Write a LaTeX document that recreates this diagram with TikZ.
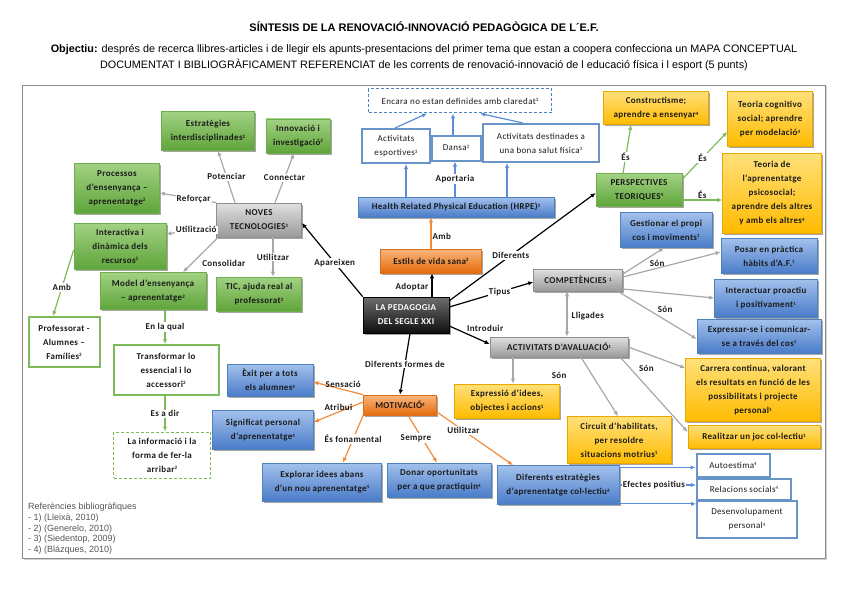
\documentclass[tikz,border=0pt]{standalone}
\usepackage{fontspec}
\setmainfont{Carlito}[LetterSpace=4]
\newfontfamily\arialf{Liberation Sans}
\usetikzlibrary{shadows,arrows.meta,calc}

\definecolor{gtop}{HTML}{A2D183}
\definecolor{gbot}{HTML}{5FA53A}
\definecolor{gdraw}{HTML}{6FAE4C}
\definecolor{btop}{HTML}{A3C1EC}
\definecolor{bbot}{HTML}{4A7CC9}
\definecolor{bdraw}{HTML}{4F81BD}
\definecolor{ytop}{HTML}{FFE07A}
\definecolor{ybot}{HTML}{FFBB00}
\definecolor{ydraw}{HTML}{E8A800}
\definecolor{otop}{HTML}{FBB57E}
\definecolor{obot}{HTML}{E46C0A}
\definecolor{odraw}{HTML}{D8701E}
\definecolor{grtop}{HTML}{E0E0E0}
\definecolor{grbot}{HTML}{9A9A9A}
\definecolor{grdraw}{HTML}{8F8F8F}
\definecolor{ktop}{HTML}{6E6E6E}
\definecolor{kbot}{HTML}{0E0E0E}
\definecolor{lgray}{HTML}{A8A8A8}
\definecolor{lgreen}{HTML}{7DBB5A}
\definecolor{lblue}{HTML}{5B8ED6}
\definecolor{lorange}{HTML}{F28C3C}
\definecolor{txt}{HTML}{1A1A1A}
\definecolor{framec}{HTML}{8A8A8A}
\definecolor{refc}{HTML}{555555}

\newcommand\mfs{\fontsize{9}{14}\selectfont}
\newcommand\sps[1]{\raisebox{0.55ex}{\fontsize{5}{5}\selectfont #1}}

\tikzset{
 wh/.style 2 args={minimum width=#1pt, minimum height=#2pt},
 box/.style={rectangle, align=center, inner sep=1pt, font=\mfs\bfseries, text=txt},
 shad/.style={drop shadow={shadow xshift=1.5pt, shadow yshift=-1.5pt, opacity=0.35, fill=black}},
 gbox/.style={box, shad, draw=gdraw, line width=0.7pt, top color=gtop, bottom color=gbot},
 bbox/.style={box, shad, draw=bdraw, line width=0.7pt, top color=btop, bottom color=bbot},
 ybox/.style={box, shad, draw=ydraw, line width=0.7pt, top color=ytop, bottom color=ybot},
 obox/.style={box, shad, draw=odraw, line width=0.7pt, top color=otop, bottom color=obot},
 grbox/.style={box, shad, draw=grdraw, line width=0.7pt, top color=grtop, bottom color=grbot},
 kbox/.style={box, shad, draw=black, line width=0.7pt, top color=ktop, bottom color=kbot, text=white},
 gwbox/.style={box, draw=lgreen, line width=2pt, fill=white},
 gdbox/.style={box, draw=lgreen, line width=1pt, dash pattern=on 3pt off 2pt, fill=white},
 bwbox/.style={box, draw=bdraw!85, line width=2pt, fill=white, font=\mfs},
 bdbox/.style={box, draw=bdraw, line width=1pt, dash pattern=on 3pt off 2pt, fill=white, font=\mfs},
 lab/.style={font=\mfs\bfseries, fill=white, inner sep=1pt, text=txt},
 labnf/.style={font=\mfs\bfseries, inner sep=1pt, text=txt},
 con/.style={line width=1.2pt, -{Latex[length=5pt,width=4.5pt]}},
 cgr/.style={con, draw=lgray},
 cgn/.style={con, draw=lgreen},
 cbl/.style={con, draw=lblue},
 cor/.style={con, draw=lorange},
 cbk/.style={con, draw=black},
}

\begin{document}
\begin{tikzpicture}[x=1pt,y=-1pt]
\useasboundingbox (0,0) rectangle (848,599);
\fill[white] (0,0) rectangle (848,599);

% header
\node[font=\arialf\bfseries\fontsize{11}{13}\selectfont] (title) at (424,27) {SÍNTESIS DE LA RENOVACIÓ-INNOVACIÓ PEDAGÒGICA DE L´E.F.};
\node[font=\arialf\fontsize{10.8}{16}\selectfont, align=center] (obj) at (424,58) {\textbf{Objectiu:} després de recerca llibres-articles i de llegir els apunts-presentacions del primer tema que estan a coopera confecciona un MAPA CONCEPTUAL\\DOCUMENTAT I BIBLIOGRÀFICAMENT REFERENCIAT de les corrents de renovació-innovació de l educació física i l esport (5 punts)};
\fill[black!18] (23.5,86.5) rectangle (826.5,559.5);
\draw[framec, line width=0.8pt, fill=white] (22,85) rectangle (825,558);

% green nodes
\node[gbox, wh={93}{39}] (estr) at (208,131) {Estratègies\\interdisciplinades\sps{2}};
\node[gbox, wh={64}{34}] (innov) at (298,136) {Innovació i\\investigació\sps{2}};
\node[gbox, wh={85}{50}] (proc) at (117,188) {Processos\\d'ensenyança –\\aprenentatge\sps{2}};
\node[gbox, wh={92}{46}] (inter) at (120,246) {Interactiva i\\dinàmica dels\\recursos\sps{2}};
\node[gbox, wh={106}{37}] (model) at (153,291) {Model d'ensenyança\\– aprenentatge\sps{2}};
\node[gbox, wh={85}{34}] (tic) at (259,294) {TIC, ajuda real al\\professorat\sps{2}};
\node[gbox, wh={86}{33}] (persp) at (639,190) {PERSPECTIVES\\TEORIQUES\sps{4}};
\node[gwbox, wh={71}{50}] (prof) at (64,342) {Professorat -\\Alumnes –\\Famílies\sps{2}};
\node[gwbox, wh={105}{50}] (transf) at (166,370) {Transformar lo\\essencial i lo\\accessori\sps{2}};
\node[gdbox, wh={97}{46}] (info) at (162,455) {La informació i la\\forma de fer-la\\arribar\sps{2}};

% gray / black / orange
\node[grbox, wh={85}{34}] (noves) at (259,220) {NOVES\\TECNOLOGIES\sps{3}};
\node[grbox, wh={89}{22}] (comp) at (578,280) {COMPETÈNCIES \sps{1}};
\node[grbox, wh={138}{20}] (aval) at (559,347) {ACTIVITATS D'AVALUACIÓ\sps{1}};
\node[kbox, wh={86}{36}] (ped) at (406,315) {LA PEDAGOGIA\\DEL SEGLE XXI};
\node[obox, wh={101}{24}] (estils) at (431,261) {Estils de vida sana\sps{3}};
\node[obox, wh={73}{20}] (motiv) at (400,405) {MOTIVACIÓ\sps{4}};

% blue filled
\node[bbox, wh={196}{20}] (hrpe) at (456,207) {Health Related Physical Education (HRPE)\sps{3}};
\node[bbox, wh={92}{35}] (gest) at (666,230) {Gestionar el propi\\cos i moviments\sps{1}};
\node[bbox, wh={96}{35}] (posar) at (769,256) {Posar en pràctica\\hàbits d'A.F.\sps{1}};
\node[bbox, wh={103}{38}] (interac) at (766,298) {Interactuar proactiu\\i positivament\sps{1}};
\node[bbox, wh={124}{34}] (expr) at (759,336) {Expressar-se i comunicar-\\se a través del cos\sps{1}};
\node[bbox, wh={86}{32}] (exit) at (270,380) {Èxit per a tots\\els alumnes\sps{4}};
\node[bbox, wh={101}{39}] (signif) at (263,430) {Significat personal\\d'aprenentatge\sps{4}};
\node[bbox, wh={119}{38}] (explor) at (322,482) {Explorar idees abans\\d'un nou aprenentatge\sps{4}};
\node[bbox, wh={104}{34}] (donar) at (439,480) {Donar oportunitats\\per a que practiquin\sps{4}};
\node[bbox, wh={122}{39}] (difest) at (558,485) {Diferents estratègies\\d'aprenentatge col·lectiu\sps{4}};

% blue outlined
\node[bdbox, wh={183}{24}] (encara) at (460,101) {Encara no estan definides amb claredat\sps{3}};
\node[bwbox, wh={68}{34}] (actesp) at (396,146) {Activitats\\esportives\sps{3}};
\node[bwbox, wh={49}{25}] (dansa) at (456,148) {Dansa\sps{3}};
\node[bwbox, wh={116}{38}] (actdest) at (541,143) {Activitats destinades a\\una bona salut física\sps{3}};
\node[bwbox, wh={73}{23}] (auto) at (733,465) {Autoestima\sps{4}};
\node[bwbox, wh={94}{21}] (relac) at (744,489) {Relacions socials\sps{4}};
\node[bwbox, wh={100}{37}] (desenv) at (747,519) {Desenvolupament\\personal\sps{4}};

% yellow
\node[ybox, wh={105}{33}] (constr) at (656,108) {Constructisme;\\aprendre a ensenyar\sps{4}};
\node[ybox, wh={85}{55}] (cogn) at (770,119) {Teoria cognitivo\\social; aprendre\\per modelació\sps{4}};
\node[ybox, wh={99}{80}] (psico) at (772,193) {Teoria de\\l'aprenentatge\\psicosocial;\\aprendre dels altres\\y amb els altres\sps{4}};
\node[ybox, wh={105}{34}] (exprid) at (507,401) {Expressió d'idees,\\objectes i accions\sps{1}};
\node[ybox, wh={104}{47}] (circ) at (619,440) {Circuit d'habilitats,\\per resoldre\\situacions motrius\sps{1}};
\node[ybox, wh={135}{63}] (carr) at (753,390) {Carrera continua, valorant\\els resultats en funció de les\\possibilitats i projecte\\personal\sps{1}};
\node[ybox, wh={132}{23}] (realiz) at (754,437) {Realitzar un joc col·lectiu\sps{1}};

% references
\node[font=\arialf\fontsize{9}{10.7}\selectfont, text=refc, align=left, anchor=north west, inner sep=0pt] (refs) at (28,503) {Referències bibliogràfiques\\- 1) (Lleixà, 2010)\\- 2) (Generelo, 2010)\\- 3) (Siedentop, 2009)\\- 4) (Blázques, 2010)};

% connectors: noves tecnologies
\draw[cgr] ([xshift=-24]noves.north) -- node[lab,pos=0.5] {Potenciar} ([xshift=10]estr.south);
\draw[cgr] ([xshift=16]noves.north) -- node[lab,pos=0.5] {Connectar} ([xshift=-4]innov.south);
\draw[cgr] (noves.north west) -- node[lab,pos=0.4] {Reforçar} ([yshift=-5]proc.east);
\draw[cgr] ([yshift=-7]noves.west) -- node[lab,pos=0.4] {Utilització} ([yshift=12]inter.east);
\draw[cgr] ([xshift=2]noves.south west) -- node[labnf,pos=0.75,xshift=32] {Consolidar} ([xshift=30]model.north);
\draw[cgr] ([xshift=14]noves.south) -- node[lab,pos=0.5] {Utilitzar} ([xshift=14]tic.north);

% green connectors
\draw[cgn] ([yshift=-4]inter.west) -- node[lab,pos=0.57] {Amb} ([xshift=-11]prof.north);
\draw[cgn] ([xshift=12]model.south) -- node[lab,pos=0.5] {En la qual} ([xshift=-1]transf.north);
\draw[cgn] ([xshift=-1]transf.south) -- node[lab,pos=0.5] {Es a dir} ([xshift=3]info.north);
\draw[cgn] ([xshift=-16]persp.north) -- node[lab,pos=0.33] {És} ([xshift=-25]constr.south);
\draw[cgn] ([yshift=-6]persp.north east) -- node[lab,pos=0.45] {És} ([yshift=-13]cogn.west);
\draw[cgn] ([yshift=-10]persp.east) -- node[labnf,pos=0.5,above] {És} ([yshift=-7]psico.west);

% pedagogia (black)
\draw[cbk] (ped.north west) -- node[lab,pos=0.46] {Apareixen} ([yshift=-3]noves.east);
\draw[cbk] ([xshift=26]ped.north) -- node[labnf,pos=0.4,anchor=east,xshift=-2] {Adoptar} ([xshift=1]estils.south);
\draw[cbk] ([yshift=-4]ped.north east) -- node[lab,pos=0.42] {Diferents} ([yshift=-3]persp.west);
\draw[cbk] ([yshift=8]ped.east) -- node[lab,pos=0.6] {Tipus} ([yshift=-2]comp.west);
\draw[cbk] ([yshift=-11]ped.east) -- node[labnf,pos=0.4,anchor=south west] {Introduir} ([yshift=3]aval.west);
\draw[cbk] ([xshift=4]ped.south) -- node[lab,pos=0.5] {Diferents formes de} (motiv.north);

% HRPE (blue) and orange
\draw[cor] (estils.north) -- node[labnf,pos=0.4,anchor=west] {Amb} ([xshift=-25]hrpe.south);
\draw[cbl] ([xshift=-50]hrpe.north) -- ([xshift=10]actesp.south);
\draw[cbl] ([xshift=-1]hrpe.north) -- node[lab,pos=0.5] {Aportaria} ([xshift=-1]dansa.south);
\draw[cbl] ([xshift=51]hrpe.north) -- ([xshift=-34]actdest.south);
\draw[cbl] ([xshift=-1]actesp.north) -- ([xshift=-33]encara.south);
\draw[cbl] ([xshift=-3]dansa.north) -- ([xshift=-7]encara.south);
\draw[cbl] ([xshift=-18]actdest.north) -- ([xshift=20]encara.south);

% competencies
\draw[cgr, {Latex[length=5pt,width=4.5pt]}-{Latex[length=5pt,width=4.5pt]}] ([xshift=-11]comp.south) -- node[labnf,pos=0.55,anchor=west,xshift=3] {Lligades} ([xshift=8]aval.north);
\draw[cgr] ([yshift=6]comp.east) -- ([xshift=-2]gest.south);
\draw[cgr] ([yshift=3]comp.east) -- node[labnf,pos=0.35,above] {Són} ([yshift=4]posar.west);
\draw[cgr] ([yshift=-9]comp.east) -- (interac.west);
\draw[cgr] ([xshift=-5]comp.south east) -- node[labnf,pos=0.6,above,yshift=6] {Són} ([yshift=-3]expr.west);

% avaluacio
\draw[cgr] (aval.east) -- ([yshift=22]carr.west);
\draw[cgr] ([xshift=-46]aval.south) -- ([xshift=6]exprid.north);
\draw[cgr] ([xshift=22]aval.south) -- node[labnf,pos=0.3,xshift=-33] {Són} ([xshift=-1]circ.north);
\draw[cgr] ([xshift=-8]aval.south east) -- node[labnf,pos=0.15,xshift=16] {Són} ([yshift=5]realiz.west);

% motivacio
\draw[cor] (motiv.north west) -- node[labnf,pos=0.4,above] {Sensació} ([yshift=-2]exit.east);
\draw[cor] ([yshift=3]motiv.west) -- node[labnf,pos=0.5,above] {Atribui} ([yshift=8]signif.east);
\draw[cor] (motiv.south west) -- node[lab,pos=0.5] {És fonamental} ([xshift=21]explor.north);
\draw[cor] ([xshift=8]motiv.south) -- node[lab,pos=0.48,xshift=-6] {Sempre} ([xshift=-2]donar.north);
\draw[cor] ([yshift=-7]motiv.east) -- node[lab,pos=0.35] {Utilitzar} ([xshift=-45]difest.north);

% efectes positius
\draw[cbl] ($(difest.east |- auto.west)+(0,2.5)$) -- ($(auto.west)+(0,2.5)$);
\draw[cbl] (difest.east) -- node[lab,pos=0.45] {Efectes positius} (difest.east -| relac.west);
\draw[cbl] ($(difest.south east)+(0,-1)$) coordinate (dse) -- (dse -| desenv.west);
\end{tikzpicture}
\end{document}
